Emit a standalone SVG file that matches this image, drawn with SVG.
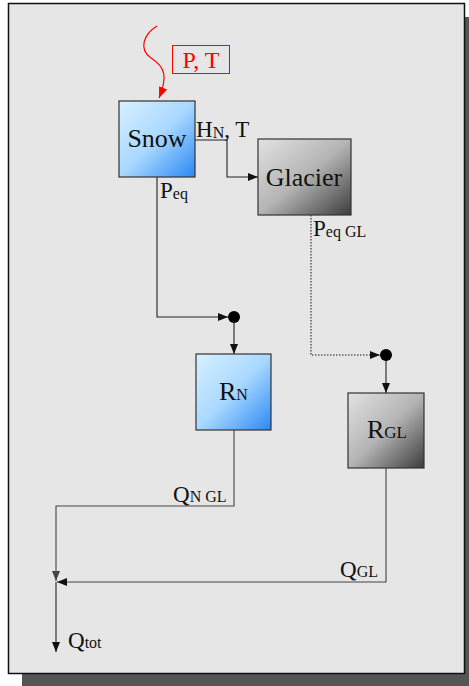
<svg xmlns="http://www.w3.org/2000/svg" width="469" height="686" viewBox="0 0 469 686">
<defs>
<linearGradient id="blue" x1="0" y1="0" x2="1" y2="1">
<stop offset="0" stop-color="#d8f0ff"/>
<stop offset="0.5" stop-color="#a9d8ff"/>
<stop offset="1" stop-color="#2a88f5"/>
</linearGradient>
<linearGradient id="gray" x1="0" y1="0" x2="1" y2="1">
<stop offset="0" stop-color="#e2e2e2"/>
<stop offset="0.5" stop-color="#b4b4b4"/>
<stop offset="1" stop-color="#3c3c3c"/>
</linearGradient>
<marker id="arr" viewBox="0 0 10 8" refX="10" refY="4" markerWidth="10" markerHeight="8" markerUnits="userSpaceOnUse" orient="auto">
<path d="M0,0 L10,4 L0,8 z" fill="#111"/>
</marker>
<marker id="arrG" viewBox="0 0 10 8" refX="10" refY="4" markerWidth="10" markerHeight="8" markerUnits="userSpaceOnUse" orient="auto">
<path d="M0,0 L10,4 L0,8 z" fill="#444"/>
</marker>
<marker id="arrR" viewBox="0 0 10 8" refX="10" refY="4" markerWidth="11" markerHeight="9" markerUnits="userSpaceOnUse" orient="auto">
<path d="M0,0 L10,4 L0,8 z" fill="#ff0000"/>
</marker>
</defs>
<style>
.node{stroke:#333;stroke-width:1.2}
.t{font-family:"Liberation Serif",serif;fill:#111}
.big{font-size:26px}
.lab{font-size:23px}
.sub{font-size:16px}
.c{fill:none;stroke:#222;stroke-width:1.1}
.cg{fill:none;stroke:#444;stroke-width:1.1}
</style>
<rect x="22" y="17" width="456" height="670" fill="#555"/>
<rect x="8.5" y="3.5" width="456" height="670" fill="#e6e6e6" stroke="#111" stroke-width="1.5"/>

<g id="connectors">
<path class="c" d="M195,140 H227 V177 H258" marker-end="url(#arr)"/>
<path class="c" d="M157,177 V317 H228" marker-end="url(#arr)"/>
<path class="c" d="M234,317 V354" marker-end="url(#arr)"/>
<path class="c" d="M311,215 V355 H380" stroke-dasharray="1.5 1.5" marker-end="url(#arr)"/>
<path class="c" d="M386,355 V393" marker-end="url(#arr)"/>
<path class="cg" d="M234,430 V506 H56 V581" marker-end="url(#arrG)"/>
<path class="cg" d="M386,468 V582 H57" marker-end="url(#arr)"/>
<path class="c" d="M56,582 V652" marker-end="url(#arr)"/>
<path d="M157,26 C144,34 138,49 151,58 C165,67 168,76 159,98" fill="none" stroke="#ff0000" stroke-width="1.2" marker-end="url(#arrR)"/>
<circle cx="234" cy="317" r="6" fill="#000"/>
<circle cx="386" cy="355" r="6" fill="#000"/>
</g>

<g id="input">
<rect x="172.5" y="45.5" width="57" height="28" fill="none" stroke="#ff0000" stroke-width="1"/>
<text x="201" y="68" text-anchor="middle" font-family="Liberation Serif,serif" font-size="24" fill="#ff0000">P, T</text>
</g>

<g id="snow">
<rect class="node" x="119" y="101" width="76" height="76" fill="url(#blue)"/>
<text class="t big" x="157" y="147" text-anchor="middle">Snow</text>
</g>
<g id="glacier">
<rect class="node" x="258" y="139" width="93" height="76" fill="url(#gray)"/>
<text class="t big" x="304" y="186" text-anchor="middle">Glacier</text>
</g>
<g id="rn">
<rect class="node" x="196" y="354" width="75" height="76" fill="url(#blue)"/>
<text class="t big" x="219" y="400">R<tspan class="sub" font-size="17">N</tspan></text>
</g>
<g id="rgl">
<rect class="node" x="348" y="393" width="76" height="75" fill="url(#gray)"/>
<text class="t big" x="367" y="438">R<tspan font-size="17">GL</tspan></text>
</g>

<g id="labels">
<text class="t lab" x="196" y="137">H<tspan class="sub" dy="1">N</tspan><tspan dy="-1">, T</tspan></text>
<text class="t lab" x="160" y="198">P<tspan class="sub" dy="1">eq</tspan></text>
<text class="t lab" x="313" y="236">P<tspan class="sub" dy="1">eq GL</tspan></text>
<text class="t lab" x="173" y="502">Q<tspan class="sub" dy="0">N GL</tspan></text>
<text class="t lab" x="340" y="577">Q<tspan class="sub">GL</tspan></text>
<text class="t lab" x="68" y="648">Q<tspan class="sub">tot</tspan></text>
</g>
</svg>
